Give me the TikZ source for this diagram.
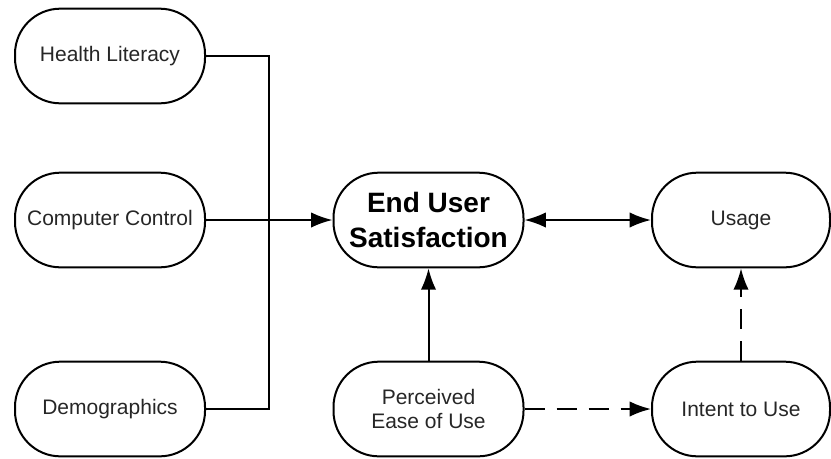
\documentclass[tikz,border=0pt]{standalone}
\usepackage{fontspec}
\setmainfont{Liberation Sans}
\usepackage{xcolor}
\usepackage{tikz}
\usetikzlibrary{arrows.meta}

\begin{document}
\begin{tikzpicture}[x=0.75pt,y=-0.75pt,line width=1.5pt,>={Latex[length=16pt,width=11.5pt]},
  factor/.style={draw,rounded corners=34pt,minimum width=142.5pt,minimum height=71pt,
    align=center,inner sep=0pt,font=\fontsize{15.75}{18}\selectfont,text=black!85},
  narrow/.style={factor,minimum width=133.5pt},
  central/.style={factor,font=\fontsize{21}{26}\selectfont\bfseries,text=black},
  dashdash/.style={dash pattern=on 15pt off 9pt}]
  \useasboundingbox (0,0) rectangle (831,458);
% left column
  \node[factor] (hl) at (110,56) {Health Literacy};
  \node[factor] (cc) at (110,220) {Computer Control};
  \node[factor] (demo) at (110,409) {Demographics};
% middle and right
  \node[central] (eus) at (428.5,220) {End User\\Satisfaction};
  \node[factor] (peou) at (428.5,409) {Perceived\\Ease of Use};
  \node[narrow] (usage) at (741,220) {Usage};
  \node[narrow] (intent) at (741,409) {Intent to Use};
% connectors
  \coordinate (bend) at (269,56);
  \draw (hl.east) -- (bend) |- (demo.east);
  \draw[->] (cc) -- (eus);
  \draw[<->] (eus) -- (usage);
  \draw[->] (peou) -- (eus);
  \draw[->,dashdash] (peou) -- (intent);
  \draw[->,dashdash] (intent) -- (usage);
\end{tikzpicture}
\end{document}
